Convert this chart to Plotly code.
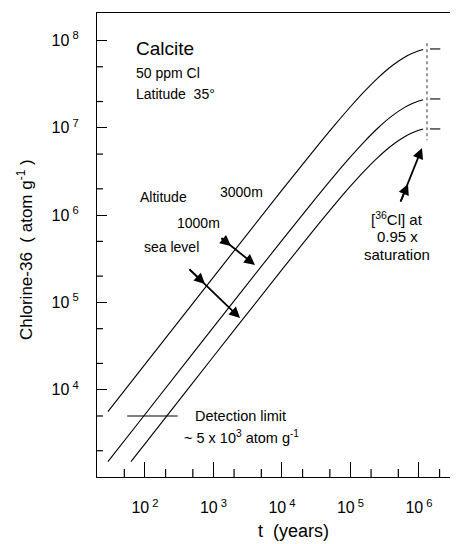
import plotly.graph_objects as go

# ---- data ----
t_3000m = [28.8, 100, 1000, 1e4, 3e4, 6e4, 1e5, 1.6e5, 2.5e5, 4e5, 6e5, 8e5, 1.15e6]
n_3000m = [5616, 19500, 1.95e5, 1.928e6, 5.655e6, 1.093e7, 1.742e7, 2.610e7, 3.707e7, 5.098e7, 6.343e7, 7.128e7, 7.870e7]

t_1000m = [28.8, 100, 1000, 1e4, 3e4, 6e4, 1e5, 1.6e5, 2.5e5, 4e5, 6e5, 8e5, 1.15e6]
n_1000m = [1498, 5200, 52000, 5.14e5, 1.507e6, 2.914e6, 4.645e6, 6.959e6, 9.883e6, 1.359e7, 1.691e7, 1.900e7, 2.098e7]

t_sea = [62.5, 100, 1000, 1e4, 3e4, 6e4, 1e5, 1.6e5, 2.5e5, 4e5, 6e5, 8e5, 1.15e6]
n_sea = [1500, 2400, 24000, 2.372e5, 6.956e5, 1.345e6, 2.143e6, 3.211e6, 4.561e6, 6.272e6, 7.804e6, 8.768e6, 9.682e6]

detect_t = [55, 300]
detect_n = [5000, 5000]

sat_line_t = [1.31e6, 1.31e6]
sat_line_n = [9.3e7, 7.2e6]

sat_mark_t = [1.45e6, 2.05e6]
sat_mark_n = [8.0e7, 2.14e7, 9.7e6]

x_tickvals = [1e2, 1e3, 1e4, 1e5, 1e6]
x_ticktext = ["10<sup> 2</sup>", "10<sup> 3</sup>", "10<sup> 4</sup>", "10<sup> 5</sup>", "10<sup> 6</sup>"]
x_minor = [50, 200, 500, 2e3, 5e3, 2e4, 5e4, 2e5, 5e5, 2e6]

y_tickvals = [1e4, 1e5, 1e6, 1e7, 1e8]
y_ticktext = ["10<sup> 4</sup>", "10<sup> 5</sup>", "10<sup> 6</sup>", "10<sup> 7</sup>", "10<sup> 8</sup>"]
y_minor = [2e3, 5e3, 2e4, 5e4, 2e5, 5e5, 2e6, 5e6, 2e7, 5e7]

FONT = "Liberation Sans, Arial, Helvetica, sans-serif"

# the page adds an 8px body margin, so the figure is shifted by OFF
OFF = 8
W, H = 458 - OFF, 544 - OFF
L, R, T, B = 97 - OFF, 0, 13 - OFF, 67
PW, PH = W - L - R, H - T - B

fig = go.Figure()
line = dict(color="black", width=1.1, shape="spline")
for tx, ny in [(t_3000m, n_3000m), (t_1000m, n_1000m), (t_sea, n_sea)]:
    fig.add_trace(go.Scatter(x=tx, y=ny, mode="lines", line=line, hoverinfo="skip"))

fig.add_trace(go.Scatter(x=detect_t, y=detect_n, mode="lines",
                         line=dict(color="black", width=1.1)))
fig.add_trace(go.Scatter(x=sat_line_t, y=sat_line_n, mode="lines",
                         line=dict(color="#555", width=1.2, dash="dot")))
for n in sat_mark_n:
    fig.add_trace(go.Scatter(x=sat_mark_t, y=[n, n], mode="lines",
                             line=dict(color="black", width=1.1)))

fig.update_layout(
    width=W, height=H,
    margin=dict(l=L, r=R, t=T, b=B, autoexpand=False),
    paper_bgcolor="white", plot_bgcolor="white",
    showlegend=False,
    font=dict(family=FONT, color="black", size=14),
)

fig.update_xaxes(
    type="log", range=[1.30, 6.57], automargin=False,
    showline=True, linecolor="black", linewidth=1.2, mirror=True,
    showgrid=False, zeroline=False,
    ticks="inside", ticklen=15, tickwidth=1.2, tickcolor="black",
    tickvals=x_tickvals, ticktext=x_ticktext,
    tickfont=dict(size=16, family=FONT, color="black"),
    ticklabelstandoff=16,
)
fig.update_yaxes(
    type="log", range=[3.0, 8.315], automargin=False,
    showline=True, linecolor="black", linewidth=1.2, mirror=False,
    showgrid=False, zeroline=False,
    ticks="inside", ticklen=10, tickwidth=1.2, tickcolor="black",
    tickvals=y_tickvals, ticktext=y_ticktext,
    tickfont=dict(size=16, family=FONT, color="black"),
    ticklabelstandoff=14,
)

# minor ticks drawn as short shapes (data values on the log axes)
for v in x_minor:
    fig.add_shape(type="line", xref="x", yref="paper",
                  x0=v, x1=v, y0=0, y1=8 / PH,
                  line=dict(color="black", width=1.2))
for v in y_minor:
    fig.add_shape(type="line", xref="paper", yref="y",
                  x0=0, x1=6 / PW, y0=v, y1=v,
                  line=dict(color="black", width=1.2))

def px2paper(px, py):
    # reference-page pixels -> paper coords
    return (px - 97) / PW, (477 - py) / PH

def px2data(px, py):
    return 1.30 + (px - 97) / 68.5, 8.315 - (py - 13) / 87.3

texts = [
    ("Calcite", 134, 49, 19, "left"),
    ("50 ppm Cl", 134, 73, 14, "left"),
    ("Latitude  35°", 134, 94, 14, "left"),
    ("Altitude", 138, 197, 14, "left"),
    ("3000m", 218, 192, 14, "left"),
    ("1000m", 175, 223, 14, "left"),
    ("sea level", 142, 247, 14, "left"),
    ("[<sup>36</sup>Cl] at", 397, 218, 15, "center"),
    ("0.95 x", 397, 237, 15, "center"),
    ("saturation", 397, 254, 15, "center"),
    ("Detection limit", 193, 416, 14.5, "left"),
    ("~ 5 x 10<sup>3</sup> atom g<sup>-1</sup>", 182, 437, 14.5, "left"),
]
for txt, px, py, sz, anch in texts:
    xp, yp = px2paper(px, py)
    fig.add_annotation(text=txt, x=xp, y=yp, xref="paper", yref="paper",
                       xanchor=anch, yanchor="middle", showarrow=False,
                       font=dict(size=sz, family=FONT, color="black"))

# axis titles
xp, yp = px2paper(293, 531)
fig.add_annotation(text="t  (years)", x=xp, y=yp, xref="paper", yref="paper",
                   showarrow=False, xanchor="center", yanchor="middle",
                   font=dict(size=18, family=FONT, color="black"))
xp, yp = px2paper(25, 250)
fig.add_annotation(text="Chlorine-36  ( atom g<sup>-1</sup> )", x=xp, y=yp,
                   xref="paper", yref="paper", textangle=-90,
                   showarrow=False, xanchor="center", yanchor="middle",
                   font=dict(size=17, family=FONT, color="black"))

# arrows: (tail px, tip px, mid px)
arrows = [
    ((220, 237), (255, 265), (231, 246)),
    ((188, 268), (240, 318), (205, 284)),
    ((400, 203), (422, 148), (408, 184)),
]
for tail, tip, mid in arrows:
    for end in (tip, mid):
        x, y = px2data(*end)
        fig.add_annotation(x=x, y=y, xref="x", yref="y", text="",
                           showarrow=True, arrowhead=2, arrowsize=1.2, arrowwidth=1.8,
                           arrowcolor="black",
                           ax=tail[0] - end[0], ay=tail[1] - end[1])

fig.write_html("out.html")
